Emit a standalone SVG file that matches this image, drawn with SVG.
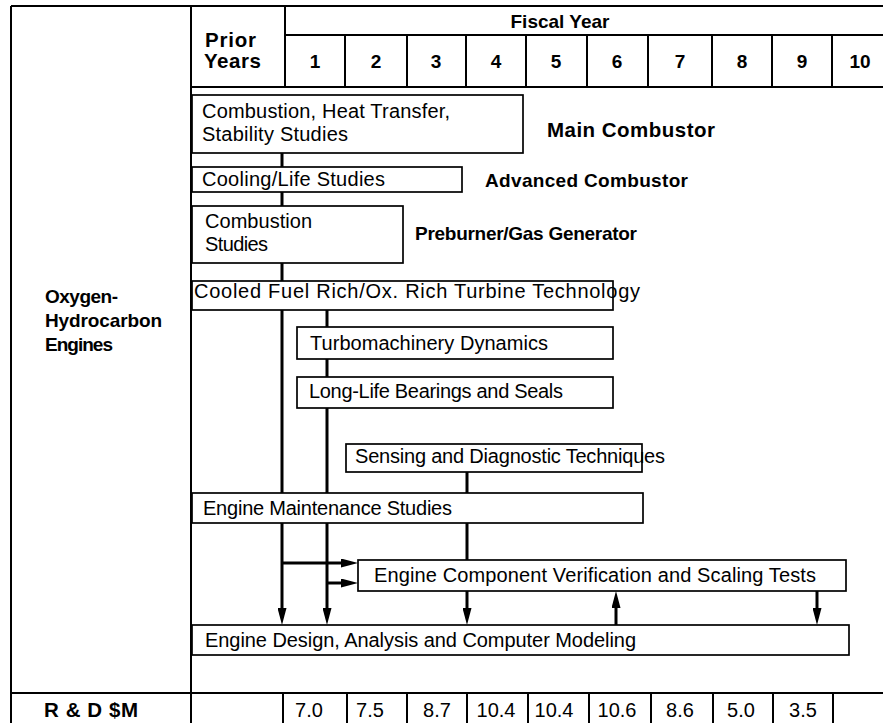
<svg xmlns="http://www.w3.org/2000/svg" width="883" height="723" viewBox="0 0 883 723">
<style>
.g{stroke:#000;stroke-width:2;fill:none}
.b{stroke:#000;stroke-width:1.7;fill:none}
.c{stroke:#000;stroke-width:3;fill:none}
.t{font-family:"Liberation Sans",Arial,sans-serif;font-size:20px;fill:#000}
.h{font-family:"Liberation Sans",Arial,sans-serif;font-size:19px;font-weight:bold;fill:#000}
.L{font-size:20.5px}
.m{text-anchor:middle}
</style>
<defs>
<marker id="ah" viewBox="0 0 17 9" refX="8" refY="4.5" markerWidth="17" markerHeight="9" markerUnits="userSpaceOnUse" orient="auto">
<path d="M0 0 L17 4.5 L0 9 Z" fill="#000"/>
</marker>
</defs>
<rect width="883" height="723" fill="#fff"/>
<g id="grid">
<path class="g" d="M11 6 H883 M11 6 V723 M191 6 V723 M285 6 V87 M285 35 H883 M191 87 H883"/>
<path class="g" d="M345 35 V87 M407 35 V87 M466 35 V87 M526 35 V87 M587 35 V87 M648 35 V87 M712 35 V87 M772 35 V87 M832 35 V87"/>
<path class="g" d="M11 693 H883 M283 693 V723 M347 693 V723 M407 693 V723 M467 693 V723 M528 693 V723 M589 693 V723 M651 693 V723 M713 693 V723 M773 693 V723 M833 693 V723"/>
</g>
<g id="header">
<text class="h m" x="560" y="28">Fiscal Year</text>
<text class="h L" x="205" y="47" textLength="51" lengthAdjust="spacing">Prior</text>
<text class="h L" x="204" y="68" textLength="57" lengthAdjust="spacing">Years</text>
<text class="h m" x="315" y="68">1</text>
<text class="h m" x="376" y="68">2</text>
<text class="h m" x="436" y="68">3</text>
<text class="h m" x="496" y="68">4</text>
<text class="h m" x="556" y="68">5</text>
<text class="h m" x="617" y="68">6</text>
<text class="h m" x="680" y="68">7</text>
<text class="h m" x="742" y="68">8</text>
<text class="h m" x="802" y="68">9</text>
<text class="h m" x="860" y="68">10</text>
</g>
<g id="row-label">
<text class="h" x="45" y="303" textLength="73" lengthAdjust="spacing">Oxygen-</text>
<text class="h" x="45" y="327" textLength="117" lengthAdjust="spacing">Hydrocarbon</text>
<text class="h" x="45" y="351" textLength="68" lengthAdjust="spacing">Engines</text>
</g>
<g id="rd-row">
<text class="h L m" x="91" y="717" textLength="94" lengthAdjust="spacing">R &amp; D $M</text>
<text class="t m" x="309" y="717">7.0</text>
<text class="t m" x="370" y="717">7.5</text>
<text class="t m" x="437" y="717">8.7</text>
<text class="t m" x="496" y="717">10.4</text>
<text class="t m" x="554" y="717">10.4</text>
<text class="t m" x="617" y="717">10.6</text>
<text class="t m" x="680" y="717">8.6</text>
<text class="t m" x="741" y="717">5.0</text>
<text class="t m" x="803" y="717">3.5</text>
</g>
<g id="connectors">
<path class="c" d="M282 153 V167 M282 192 V206 M282 263 V281 M282 310 V493 M327 310 V327 M327 359 V377 M327 408 V493 M467 472 V493 M467 523 V560"/>
<path class="c" marker-end="url(#ah)" d="M282 523 V616"/>
<path class="c" marker-end="url(#ah)" d="M327 523 V616"/>
<path class="c" marker-end="url(#ah)" d="M282 563 H349"/>
<path class="c" marker-end="url(#ah)" d="M327 583 H349"/>
<path class="c" marker-end="url(#ah)" d="M467 591 V616"/>
<path class="c" marker-end="url(#ah)" d="M616 625 V600"/>
<path class="c" marker-end="url(#ah)" d="M817 591 V616"/>
</g>
<g id="main-combustor-studies">
<rect class="b" x="192" y="95" width="331" height="58"/>
<text class="t" x="202" y="118" textLength="248" lengthAdjust="spacing">Combustion, Heat Transfer,</text>
<text class="t" x="202" y="141" textLength="146" lengthAdjust="spacing">Stability Studies</text>
</g>
<g id="main-combustor-label"><text class="h L" x="547" y="137" textLength="168" lengthAdjust="spacing">Main Combustor</text></g>
<g id="cooling-life">
<rect class="b" x="192" y="167" width="270" height="25"/>
<text class="t" x="202" y="186" textLength="183" lengthAdjust="spacing">Cooling/Life Studies</text>
</g>
<g id="advanced-combustor-label"><text class="h" x="485" y="187" textLength="203" lengthAdjust="spacing">Advanced Combustor</text></g>
<g id="combustion-studies">
<rect class="b" x="192" y="206" width="211" height="57"/>
<text class="t" x="205" y="228" textLength="107" lengthAdjust="spacing">Combustion</text>
<text class="t" x="205" y="251" textLength="63" lengthAdjust="spacing">Studies</text>
</g>
<g id="preburner-label"><text class="h" x="415" y="240" textLength="222" lengthAdjust="spacing">Preburner/Gas Generator</text></g>
<g id="turbine-tech">
<rect class="b" x="192" y="281" width="421" height="29"/>
<text class="t" x="194" y="298" textLength="446" lengthAdjust="spacing">Cooled Fuel Rich/Ox. Rich Turbine Technology</text>
</g>
<g id="turbomachinery">
<rect class="b" x="297" y="327" width="316" height="32"/>
<text class="t" x="310" y="350" textLength="238" lengthAdjust="spacing">Turbomachinery Dynamics</text>
</g>
<g id="bearings">
<rect class="b" x="297" y="377" width="316" height="31"/>
<text class="t" x="309" y="398" textLength="254" lengthAdjust="spacing">Long-Life Bearings and Seals</text>
</g>
<g id="sensing">
<rect class="b" x="346" y="444" width="296" height="28"/>
<text class="t" x="355" y="463" textLength="310" lengthAdjust="spacing">Sensing and Diagnostic Techniques</text>
</g>
<g id="maintenance">
<rect class="b" x="192" y="493" width="451" height="30"/>
<text class="t" x="203" y="515" textLength="249" lengthAdjust="spacing">Engine Maintenance Studies</text>
</g>
<g id="verification">
<rect class="b" x="358" y="560" width="488" height="31"/>
<text class="t" x="374" y="582" textLength="442" lengthAdjust="spacing">Engine Component Verification and Scaling Tests</text>
</g>
<g id="design">
<rect class="b" x="192" y="625" width="657" height="30"/>
<text class="t" x="205" y="647" textLength="431" lengthAdjust="spacing">Engine Design, Analysis and Computer Modeling</text>
</g>
</svg>
